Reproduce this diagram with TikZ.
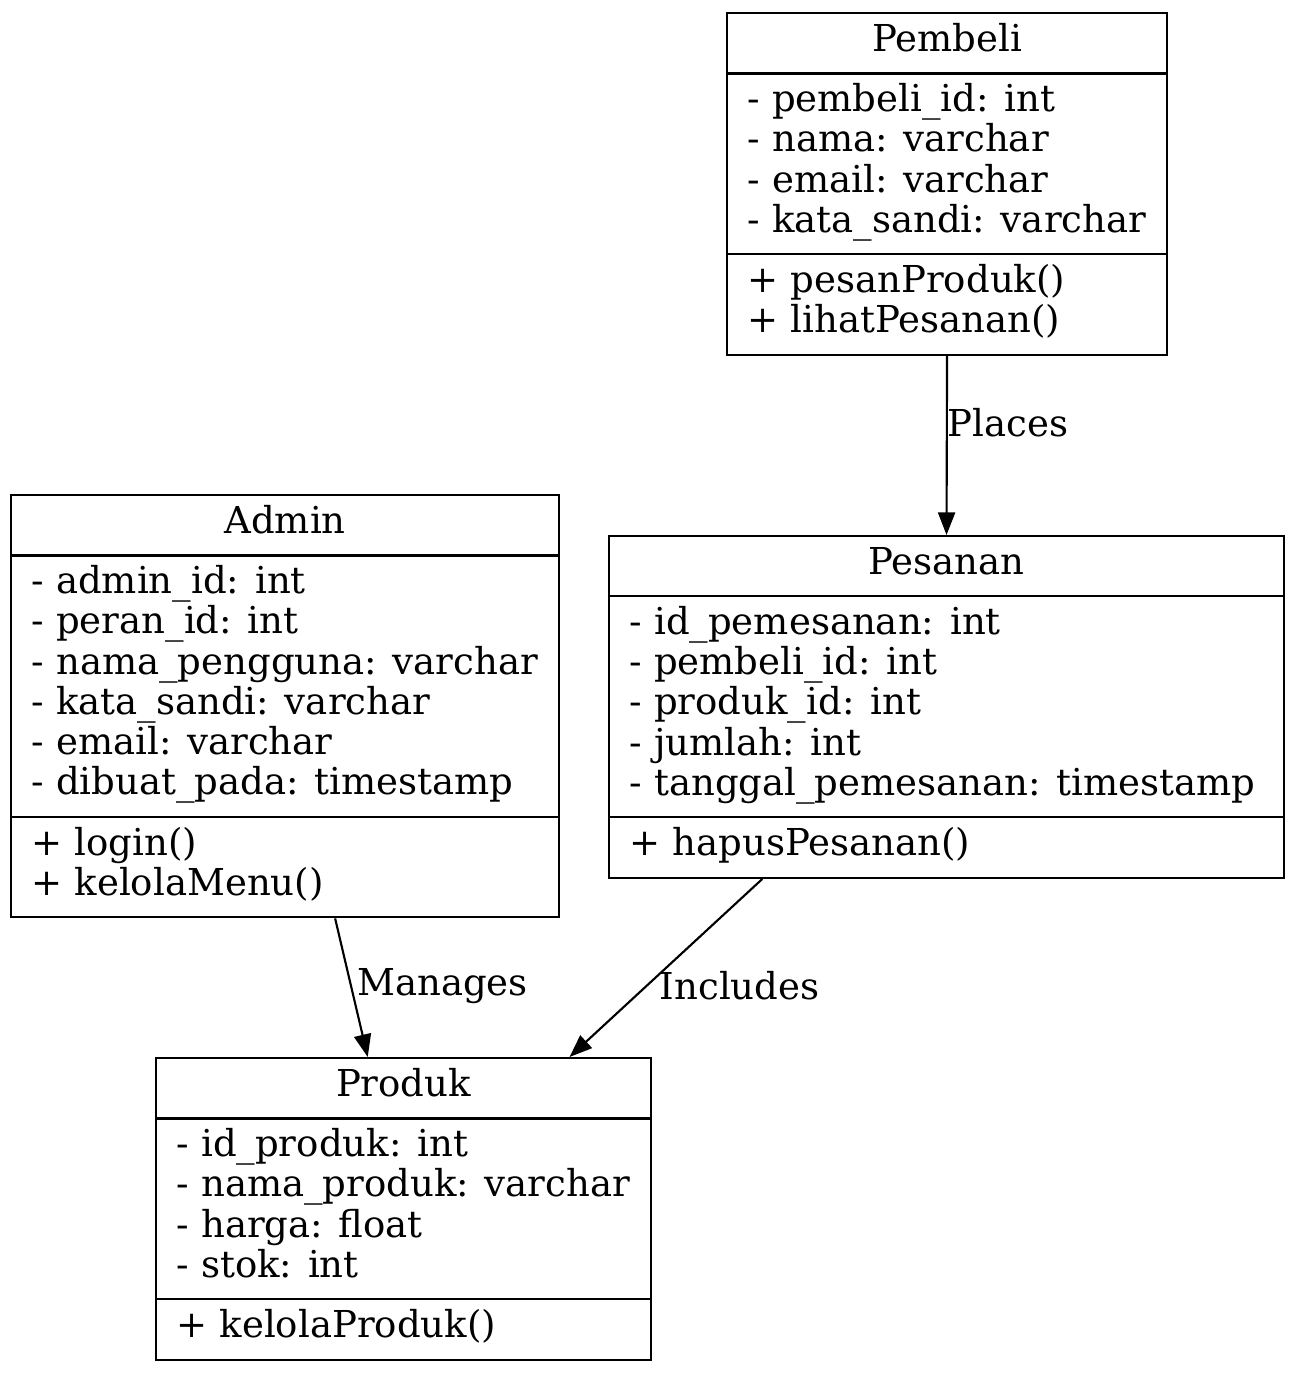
\documentclass[tikz,border=0pt]{standalone}
\usepackage{fontspec}
\setmainfont{DejaVu Serif}
\usetikzlibrary{shapes.multipart, arrows.meta, calc}

\newcommand{\classtitle}[1]{\begin{tabular}{@{}c@{}}#1\end{tabular}}
\newcommand{\classmembers}[1]{\begin{tabular}{@{}l@{}}#1\end{tabular}}

\tikzstyle{umlclass} = [rectangle split, rectangle split parts=3, rectangle split part align={center,left,left}, draw=black, line width=0.8pt, inner xsep=7.8pt, inner ysep=3.4pt, anchor=north west, font=\fontsize{13.9}{15}\selectfont]
\tikzstyle{arrow} = [line width=0.8pt, -{Triangle[length=8.5pt,width=6.4pt]}]
\tikzstyle{edgelabel} = [anchor=west, inner sep=0pt, font=\fontsize{13.9}{15}\selectfont]

\begin{document}
\begin{tikzpicture}[x=0.375pt, y=-0.375pt]
\useasboundingbox (0,0) rectangle (1294,1374);

% Classes
\node (pembeli) [umlclass, minimum width=165pt] at (726,12) {\classtitle{Pembeli}
  \nodepart{second}\classmembers{- pembeli\_id: int \\ - nama: varchar \\ - email: varchar \\ - kata\_sandi: varchar}
  \nodepart{third}\classmembers{+ pesanProduk() \\ + lihatPesanan()}};

\node (admin) [umlclass, minimum width=205.5pt] at (10,494) {\classtitle{Admin}
  \nodepart{second}\classmembers{- admin\_id: int \\ - peran\_id: int \\ - nama\_pengguna: varchar \\ - kata\_sandi: varchar \\ - email: varchar \\ - dibuat\_pada: timestamp}
  \nodepart{third}\classmembers{+ login() \\ + kelolaMenu()}};

\node (pesanan) [umlclass, minimum width=253.1pt] at (608,535) {\classtitle{Pesanan}
  \nodepart{second}\classmembers{- id\_pemesanan: int \\ - pembeli\_id: int \\ - produk\_id: int \\ - jumlah: int \\ - tanggal\_pemesanan: timestamp}
  \nodepart{third}\classmembers{+ hapusPesanan()}};

\node (produk) [umlclass, minimum width=185.6pt] at (155,1057) {\classtitle{Produk}
  \nodepart{second}\classmembers{- id\_produk: int \\ - nama\_produk: varchar \\ - harga: float \\ - stok: int}
  \nodepart{third}\classmembers{+ kelolaProduk()}};

% Relations
\draw [arrow] (pembeli.south) -- node[edgelabel, pos=0.37] {Places} (pesanan.north);
\draw [arrow] ($(admin.south west)!0.591!(admin.south east)$) -- node[edgelabel, pos=0.49, xshift=1.9pt] {Manages} ($(produk.north west)!0.428!(produk.north east)$);
\draw [arrow] ($(pesanan.south west)!0.228!(pesanan.south east)$) -- node[edgelabel, pos=0.6, xshift=4.5pt] {Includes} ($(produk.north west)!0.834!(produk.north east)$);

\end{tikzpicture}
\end{document}
